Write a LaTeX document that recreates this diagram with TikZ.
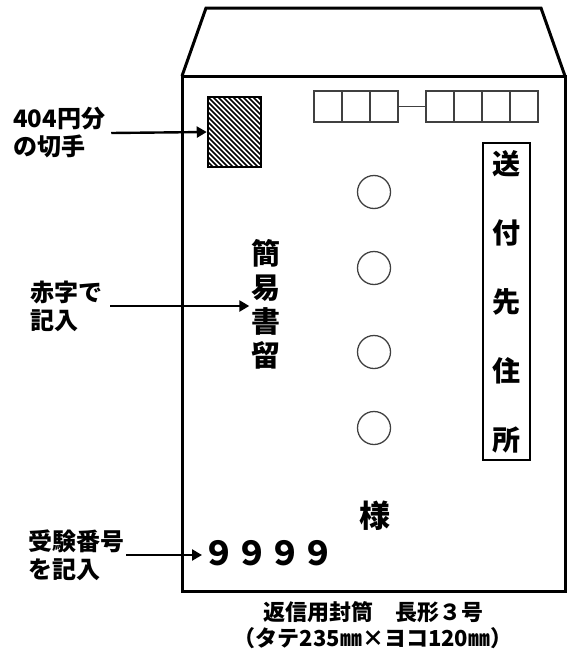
\documentclass[tikz,border=0pt]{standalone}
\usepackage{fontspec}
\setmainfont{Noto Sans CJK JP}
\usepackage{tikz}
\usetikzlibrary{positioning, arrows.meta}
\tikzstyle{edge} = [line width=3pt, line join=miter]
\tikzstyle{note} = [anchor=west, align=left, inner sep=2pt, font=\fontsize{24}{28}\selectfont\bfseries]
\tikzstyle{arrow} = [line width=2.4pt, -{Triangle[length=10pt, width=11pt]}]
\tikzstyle{zipbox} = [draw=black!75, line width=1.3pt, minimum width=28pt, minimum height=31pt, inner sep=0pt, outer sep=0pt]
\tikzstyle{hole} = [circle, draw=black!75, line width=1.3pt, minimum size=33pt, inner sep=0pt]
\tikzstyle{vtext} = [align=center, inner sep=2pt]
\tikzstyle{stampbox} = [draw, line width=2.5pt, minimum width=53pt, minimum height=70pt, inner sep=0pt,
 path picture={\foreach \k in {-80,-75,...,60}
   \draw[line width=1.5pt] ([xshift=\k pt]path picture bounding box.north west) -- ++(80,80);}]

\begin{document}
\begin{tikzpicture}[x=1pt, y=-1pt]
\useasboundingbox (0,0) rectangle (573,653);

% envelope
\draw[edge] (182,76) -- (206,8) -- (541,8) -- (565,76);
\draw[edge] (182,76) rectangle (565,591);

% stamp and postal code
\node (stamp) [stampbox] at (234.5,132) {};
\foreach \i in {1,...,3}
  \node (zipa\i) [zipbox] at ({300+28*\i},106.5) {};
\foreach \i in {1,...,4}
  \node (zipb\i) [zipbox] at ({412+28*\i},106.5) {};
\draw[draw=black!75, line width=1.3pt] (zipa3.east) -- (zipb1.west);

% address
\foreach \y [count=\i] in {192,268,352,428}
  \node (hole\i) [hole] at (374,\y) {};
\node (addr) [draw, line width=2pt, minimum width=47pt, minimum height=317pt, align=center,
  font=\fontsize{28}{69}\selectfont\bfseries] at (506.5,301.5) {送\\付\\先\\住\\所};
\node (kanni) [vtext, font=\fontsize{29}{34}\selectfont\bfseries] at (266,304) {簡\\易\\書\\留};
\node (sama) [font=\fontsize{31}{32}\selectfont\bfseries] at (375,516) {様};
\node (number) [anchor=west, inner sep=0pt, font=\fontsize{33}{36}\selectfont\bfseries] at (202,553) {９９９９};

% notes
\node (stampnote) [note] at (11,133) {404円分\\の切手};
\node (rednote) [note] at (28,306) {赤字で\\記入};
\node (numnote) [note] at (26,555) {受験番号\\を記入};

\draw [arrow] ([xshift=4pt]stampnote.east) -- (stamp.west);
\draw [arrow] ([xshift=6pt]rednote.east) -- (rednote.east -| kanni.west);
\draw [arrow] (numnote.east) -- (numnote.east -| number.west);

% caption
\node (caption) [align=center, font=\fontsize{22}{26}\selectfont\bfseries] at (373,625)
  {返信用封筒　長形３号\\（タテ235㎜×ヨコ120㎜）};

\end{tikzpicture}
\end{document}
